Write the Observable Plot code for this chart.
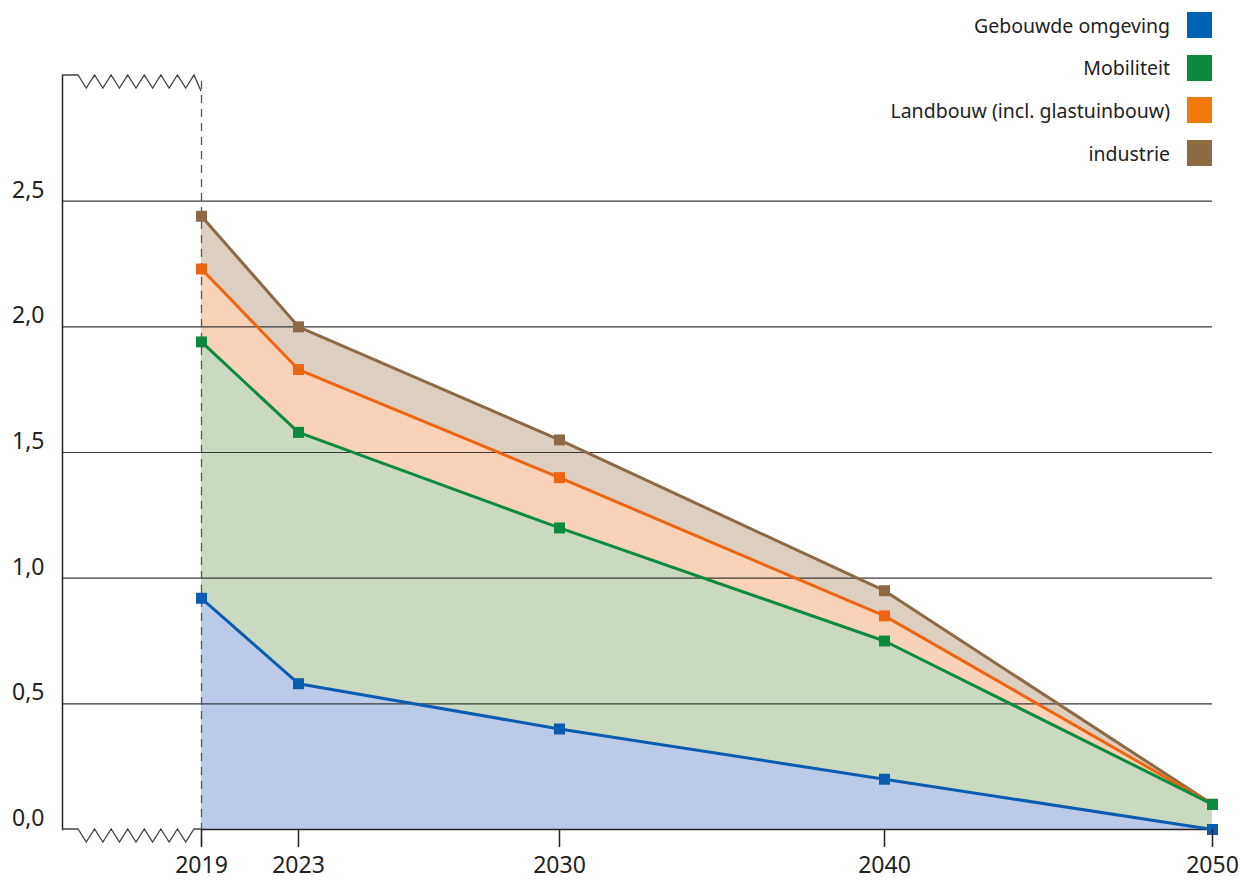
<!DOCTYPE html>
<html><head><meta charset="utf-8">
<script src="https://cdn.jsdelivr.net/npm/d3@7"></script>
<script src="https://cdn.jsdelivr.net/npm/@observablehq/plot@0.6"></script>
<style>
body{margin:0;background:#fff;font-family:"Noto Sans",sans-serif;color:#222}
#wrap{position:relative;width:1243px;height:883px}
#legend{position:absolute;left:0;top:0;width:1243px;height:180px;pointer-events:none}
.li{position:absolute;right:31px;display:flex;align-items:center;gap:17px;font-size:19.5px;color:#222;height:26px}
.sw{width:25px;height:26px}
</style>
</head><body><div id="wrap"><div id="chart"></div><div id="legend"></div></div>
<script>
const years = [2019, 2023, 2030, 2040, 2050];
const sectors = ["Gebouwde omgeving", "Mobiliteit", "Landbouw (incl. glastuinbouw)", "industrie"];
const gebouwde   = [0.92, 0.58, 0.40, 0.20, 0.00];
const mobiliteit = [1.02, 1.00, 0.80, 0.55, 0.10];
const landbouw   = [0.29, 0.25, 0.20, 0.10, 0.00];
const industrie  = [0.21, 0.17, 0.15, 0.10, 0.00];
const yTicks = [0, 0.5, 1, 1.5, 2, 2.5];
const lineColors   = ["#0a5cb0", "#0b8a40", "#ee6511", "#8d6a45"];
const fillColors   = ["#bccae9", "#c9dac0", "#fad2b8", "#dccfc2"];
const legendColors = ["#0062b4", "#0b8a3f", "#f07a0a", "#8e6a45"];

const series = [gebouwde, mobiliteit, landbouw, industrie];
const data = years.flatMap((year, i) => sectors.map((sector, j) => ({year, sector, value: series[j][i]})));
const idx = s => sectors.indexOf(s);
const dataRev = data.slice().reverse();

const fmt = d => d.toFixed(1).replace(".", ",");

const plot = Plot.plot({
  width: 1243, height: 883,
  marginLeft: 62, marginRight: 31, marginTop: 75, marginBottom: 54,
  style: {fontFamily: '"Noto Sans", sans-serif', fontSize: "23px", color: "#222", background: "#fff"},
  x: {domain: years, range: [201, 298, 559, 884, 1212], type: "linear", label: null},
  y: {domain: [0, 3], label: null},
  color: {type: "identity"},
  marks: [
    Plot.areaY(data, Plot.stackY({x: "year", y: "value", z: "sector", order: sectors, fill: d => fillColors[idx(d.sector)], curve: "linear"})),
    Plot.ruleY(yTicks.filter(d => d > 0), {stroke: "#3a3a3a", strokeWidth: 1.2}),
    Plot.ruleY([0], {x1: years[0], x2: years[years.length - 1], stroke: "#222", strokeWidth: 1.5}),
    Plot.frame({anchor: "left", stroke: "#222", strokeWidth: 1.5}),
    Plot.ruleX([years[0]], {y1: 0, y2: 3, insetTop: 16, stroke: "#555", strokeWidth: 1.3, strokeDasharray: "8,6"}),
    Plot.lineY(dataRev, Plot.stackY2({x: "year", y: "value", z: "sector", order: sectors, stroke: d => lineColors[idx(d.sector)], strokeWidth: 3})),
    Plot.dot(dataRev, Plot.stackY2({x: "year", y: "value", z: "sector", order: sectors, fill: d => lineColors[idx(d.sector)], symbol: "square", r: 6.2})),
    Plot.axisX({ticks: years, tickSize: 18, tickPadding: 9, tickFormat: d => String(d), stroke: "#222", strokeWidth: 1.5, fontSize: 23, label: null}),
    Plot.axisY({ticks: yTicks, tickSize: 0, tickPadding: 18, dy: -11, tickFormat: fmt, fontSize: 23, label: null})
  ]
});
document.getElementById("chart").appendChild(plot);

// axis-break decorations (zigzags) derived from the scales
const xs = plot.scale("x"), ys = plot.scale("y");
const svg = d3.select(plot);
const left = 62, x0 = xs.apply(years[0]), yb = ys.apply(0), yt = ys.apply(3);
const zs = left + 16, ze = x0 - 7, n = 7, w = (ze - zs) / n, depth = 13;
function zig(yBase) {
  let p = `M${left},${yBase}L${zs},${yBase}`;
  for (let i = 0; i < n; i++) p += `L${zs + w * (i + 0.5)},${yBase + depth}L${zs + w * (i + 1)},${yBase}`;
  return p;
}
svg.append("path").attr("d", zig(yb) + `L${x0},${yb}`).attr("fill", "none").attr("stroke", "#444").attr("stroke-width", 1.3);
svg.append("path").attr("d", zig(yt) + `L${x0},${yt + 16}`).attr("fill", "none").attr("stroke", "#444").attr("stroke-width", 1.3);

// legend
const lg = document.getElementById("legend");
sectors.forEach((s, i) => {
  const row = document.createElement("div");
  row.className = "li";
  row.style.top = (12 + i * 42.7) + "px";
  row.innerHTML = `<span>${s}</span><span class="sw" style="background:${legendColors[i]}"></span>`;
  lg.appendChild(row);
});
</script>
</body></html>
